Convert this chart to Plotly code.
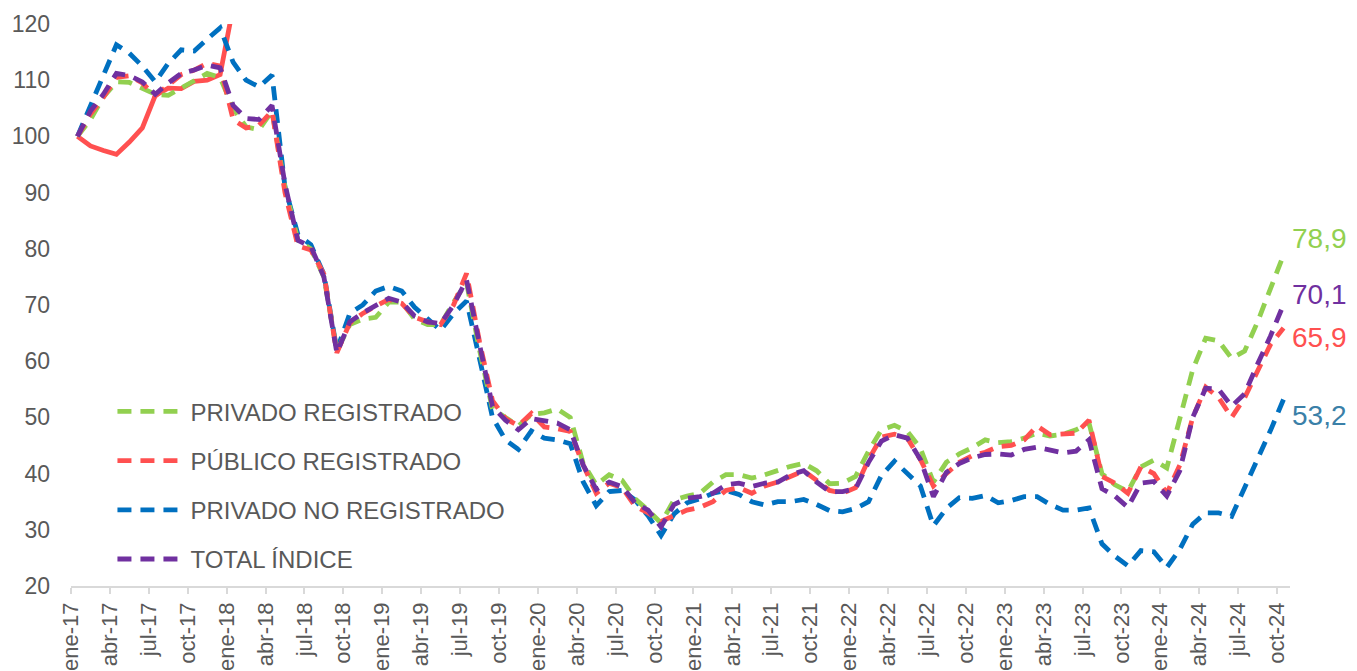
import plotly.graph_objects as go

# monthly categories ene-17 .. oct-24 (94 months)
month_names = ["ene", "feb", "mar", "abr", "may", "jun", "jul", "ago", "sep", "oct", "nov", "dic"]
months = [f"{m}-{y}" for y in range(17, 25) for m in month_names][:94]

tick_labels = ["ene-17", "abr-17", "jul-17", "oct-17", "ene-18", "abr-18", "jul-18", "oct-18",
               "ene-19", "abr-19", "jul-19", "oct-19", "ene-20", "abr-20", "jul-20", "oct-20",
               "ene-21", "abr-21", "jul-21", "oct-21", "ene-22", "abr-22", "jul-22", "oct-22",
               "ene-23", "abr-23", "jul-23", "oct-23", "ene-24", "abr-24", "jul-24", "oct-24"]

privado_registrado = [
    100, 103, 107, 109.7, 109.6, 108.6, 107.5, 107.3, 108.6, 109.7, 111.2, 110.5,
    105, 101.7, 101.2, 104.5, 91, 81.5, 80, 75, 61.8, 66.5, 67.5, 67.8,
    70.5, 70.5, 67.5, 66.5, 66.5, 70.5, 74, 62, 51.5, 50, 48.5, 50.5,
    50.8, 51.5, 50, 41.8, 38, 39.8, 38.8, 35.5, 33.5, 31.2, 35.3, 36,
    36.5, 38.5, 39.8, 39.8, 39.2, 39.8, 40.6, 41.3, 41.8, 40.5, 38.2, 38.3,
    39.5, 44, 47.8, 48.6, 47.5, 44.5, 38.5, 42, 43.5, 44.6, 46, 45.5,
    45.7, 46.3, 47.2, 46.7, 47, 47.8, 49, 40, 38, 36.8, 41.2, 42.4,
    41, 49.5, 58.5, 64.1, 63.6, 60.5, 61.8, 67, 72.8, 78.9]

publico_registrado = [
    100, 104, 107, 110.5, 110.8, 109.5, 107.2, 109, 111, 111.8, 113, 112.5,
    103, 101.5, 102, 104.5, 90, 80.5, 79.8, 75.5, 61.5, 66.8, 68.5, 69.8,
    71, 70.3, 67.8, 67, 66.5, 70, 75.6, 63.5, 53, 49.8, 48.5, 50.7,
    48.3, 48, 47.5, 41.5, 36.5, 38.3, 37.5, 34.2, 33, 31.5, 32.5, 33.5,
    34, 35, 37, 37.5, 36.5, 37.8, 38.5, 39.5, 40.5, 38.8, 37, 36.5,
    37.5, 42.5, 46.5, 47, 46.3, 42.5, 37.8, 40, 42, 43.2, 43.8, 44.8,
    45, 46, 48.5, 46.9, 47, 47.2, 49.5, 39.5, 38.3, 36.5, 41.2, 40,
    36.5, 41.5, 50, 55.4, 53.5, 50, 53.5, 58.5, 63, 65.9]

publico_inicial = [100, 98.3, 97.5, 96.8, 99, 101.5, 107.3, 108.6, 108.5, 109.8, 110, 111, 123]

privado_no_registrado = [
    100, 105.5, 111, 116.3, 114.8, 112.5, 109.7, 113, 115.4, 115.2, 117.3, 119.3,
    113.2, 110, 108.8, 110.9, 91, 82.5, 80.7, 75.5, 62, 68.5, 70, 72.5,
    73.3, 72.5, 69.6, 67.5, 65.5, 68.5, 70.7, 60.5, 50, 46, 44.3, 47.6,
    46.3, 46, 45.3, 38.5, 34.3, 36.8, 37, 35.3, 32.5, 29, 32.8, 34.8,
    35.5, 36.5, 37, 36.3, 35, 34.4, 35, 35, 35.4, 34.5, 33.4, 33.2,
    33.8, 35, 39.7, 42.2, 40, 37.8, 30.7, 33.8, 35.7, 35.6, 36.1, 34.8,
    35.2, 35.9, 35.9, 34.5, 33.5, 33.5, 33.9, 27.5, 25.3, 23.6, 26.3, 26.1,
    23.3, 26.5, 31, 33, 33, 32.4, 37.5, 42.5, 47.7, 53.2]

total_indice = [
    100, 104.5, 107.5, 111.2, 110.8, 109.7, 107.5, 109.5, 111.2, 111.8, 112.7, 112.2,
    105.5, 103.2, 103, 105.5, 91.5, 81.5, 80.4, 75, 61.5, 67, 68.6, 69.8,
    71.2, 70.5, 68, 67, 66.7, 70, 74.5, 63, 52, 49.5, 47.8, 49.8,
    49.3, 49, 47.8, 41.5, 37.2, 38.5, 37.7, 34.8, 33.5, 30.5, 34.5, 35.6,
    35.9, 36.5, 38, 38.3, 37.7, 38.3, 38.5, 39.8, 40.5, 38.5, 36.8, 36.8,
    37.3, 42, 45.8, 46.9, 46.3, 42.5, 35.9, 40.2, 41.8, 42.8, 43.4, 43.5,
    43.3, 44.3, 44.7, 44.2, 43.7, 44, 46, 37.3, 36, 34, 38.3, 38.6,
    36, 40.5, 50, 55.2, 55, 52, 54.2, 59.5, 64.5, 70.1]

series_names = ["PRIVADO REGISTRADO", "PÚBLICO REGISTRADO", "PRIVADO NO REGISTRADO", "TOTAL ÍNDICE"]
series_values = [privado_registrado, publico_registrado, privado_no_registrado, total_indice]
series_colors = ["#92D050", "#FF5050", "#0070C0", "#7030A0"]

end_labels = ["78,9", "65,9", "53,2", "70,1"]
end_label_y = [81.9, 64.3, 50.4, 71.8]
end_label_colors = ["#92D050", "#FF5050", "#3A80A8", "#7030A0"]

x_idx = list(range(len(months)))
tick_idx = [months.index(t) - 0.5 for t in tick_labels]

FONT = "Liberation Sans, Arial, sans-serif"
TXT = "#595959"

fig = go.Figure()

# solid early segment of the public series (no legend entry)
fig.add_trace(go.Scatter(
    x=x_idx[:len(publico_inicial)], y=publico_inicial, mode="lines",
    line=dict(color="#FF5050", width=4.8), showlegend=False, hoverinfo="skip"))

order = [2, 0, 1, 3]  # draw order: blue, green, red, purple on top
for k in order:
    fig.add_trace(go.Scatter(
        x=x_idx, y=series_values[k], mode="lines", name=series_names[k],
        legendgroup=series_names[k], legendrank=k + 1,
        line=dict(color=series_colors[k], width=4.8, dash="14px,9px")))

for lab, yv, col in zip(end_labels, end_label_y, end_label_colors):
    fig.add_annotation(x=1, xref="paper", xanchor="left", xshift=0, y=yv, yref="y",
                       text=lab, showarrow=False,
                       font=dict(family=FONT, size=28, color=col))

fig.update_layout(
    width=1357, height=671,
    margin=dict(l=62.5, r=75.3, t=16, b=93),
    paper_bgcolor="white", plot_bgcolor="white",
    font=dict(family=FONT, color=TXT),
    showlegend=True,
    legend=dict(x=0.034, y=0.35, xanchor="left", yanchor="top",
                font=dict(family=FONT, size=24, color=TXT),
                bgcolor="rgba(0,0,0,0)", itemwidth=68, tracegroupgap=15,
                traceorder="grouped"),
    xaxis=dict(range=[-0.5, 93.5], tickmode="array", tickvals=tick_idx, ticktext=tick_labels,
               tickangle=-90, tickfont=dict(family=FONT, size=22, color=TXT),
               showline=True, linecolor="#D9D9D9", linewidth=1.5,
               ticks="outside", ticklen=6, tickcolor="#D9D9D9", tickwidth=1.5,
               showgrid=False, zeroline=False, automargin=False),
    yaxis=dict(range=[20, 120], tickmode="array", tickvals=list(range(20, 121, 10)),
               tickfont=dict(family=FONT, size=23, color=TXT),
               showline=False, showgrid=False, zeroline=False, ticks="",
               ticklabelstandoff=20, automargin=False),
)

fig.write_html("out.html")
